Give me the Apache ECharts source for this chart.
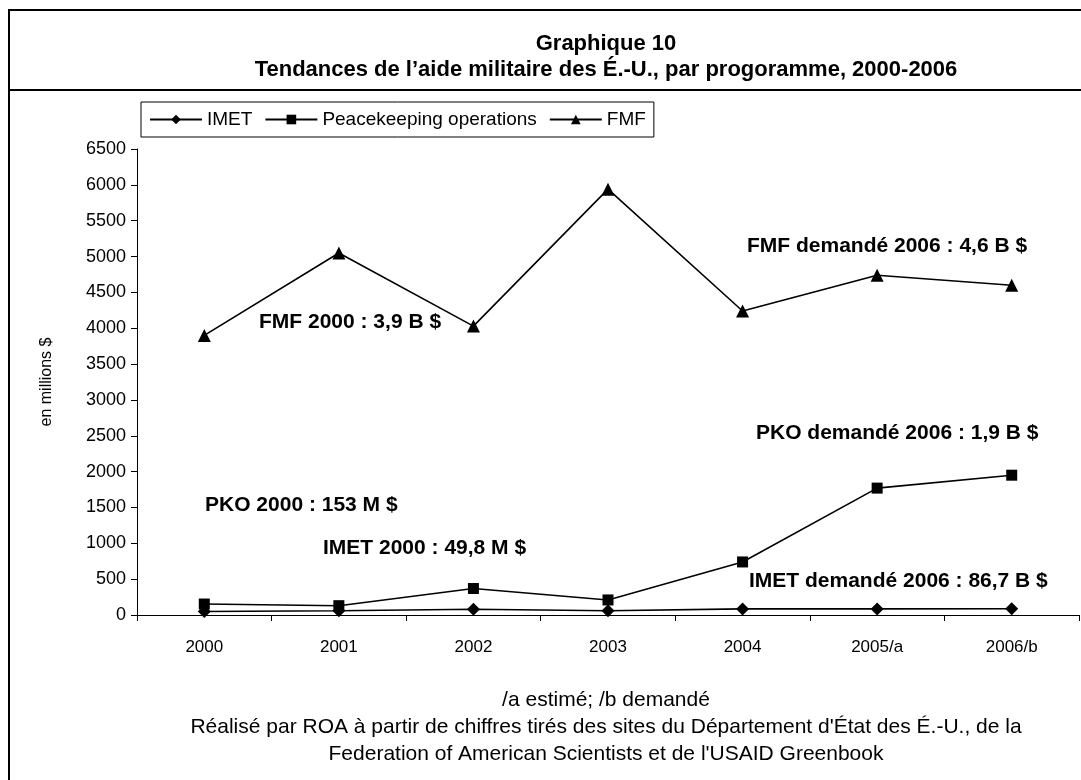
<!DOCTYPE html>
<html>
<head>
<meta charset="utf-8">
<script src="https://cdn.jsdelivr.net/npm/echarts@6/dist/echarts.min.js"></script>
<style>
html,body{margin:0;padding:0;background:#fff;}
#c{width:1081px;height:780px;}
</style>
</head>
<body>
<div id="c"></div>
<script>
var categories = ['2000', '2001', '2002', '2003', '2004', '2005/a', '2006/b'];
var imetValues = [49.8, 60, 80, 60, 85, 85, 86.7];
var pkoValues = [153, 130, 370, 210, 740, 1770, 1950];
var fmfValues = [3900, 5050, 4030, 5940, 4240, 4740, 4600];
var seriesNames = ['IMET', 'Peacekeeping operations', 'FMF'];
var titleLines = ['Graphique 10', 'Tendances de l\u2019aide militaire des \u00c9.-U., par progoramme, 2000-2006'];
var notes = ['/a estim\u00e9; /b demand\u00e9',
  'R\u00e9alis\u00e9 par ROA \u00e0 partir de chiffres tir\u00e9s des sites du D\u00e9partement d\'\u00c9tat des \u00c9.-U., de la',
  'Federation of American Scientists et de l\'USAID Greenbook'];
var annotations = [
  {text: 'FMF 2000 : 3,9 B $', x: 259, y: 322},
  {text: 'PKO 2000 : 153 M $', x: 205, y: 505},
  {text: 'IMET 2000 : 49,8 M $', x: 323, y: 548},
  {text: 'FMF demand\u00e9 2006 : 4,6 B $', x: 747, y: 246},
  {text: 'PKO demand\u00e9 2006 : 1,9 B $', x: 756, y: 433},
  {text: 'IMET demand\u00e9 2006 : 86,7 B $', x: 749, y: 581}
];

var FONT = '"Liberation Sans", Arial, sans-serif';
var chart = echarts.init(document.getElementById('c'), null, {renderer: 'canvas'});

function txt(x, y, s, font, align) {
  return {type: 'text', z: 5, style: {x: x, y: y, text: s, font: font, fill: '#000', textAlign: align || 'center', textVerticalAlign: 'middle'}};
}

var graphics = [
  {type: 'rect', shape: {x: 9, y: 10, width: 1300, height: 900}, style: {fill: 'none', stroke: '#000', lineWidth: 2}, z: 1},
  {type: 'line', shape: {x1: 9, y1: 90, x2: 1300, y2: 90}, style: {stroke: '#000', lineWidth: 2}, z: 1},
  txt(606, 44, titleLines[0], 'bold 22px ' + FONT),
  txt(606, 70, titleLines[1], 'bold 22px ' + FONT),
  txt(606, 700, notes[0], '21px ' + FONT),
  txt(606, 727, notes[1], '21px ' + FONT),
  txt(606, 754, notes[2], '21px ' + FONT)
];
annotations.forEach(function (a) {
  graphics.push(txt(a.x, a.y, a.text, 'bold 21px ' + FONT, 'left'));
});

function lineSeries(name, data, symbol, size) {
  return {
    name: name, type: 'line', data: data,
    symbol: symbol, symbolSize: size,
    lineStyle: {color: '#000', width: 1.6},
    itemStyle: {color: '#000'},
    emphasis: {disabled: true},
    animation: false
  };
}

chart.setOption({
  animation: false,
  textStyle: {fontFamily: FONT, color: '#000'},
  grid: {left: 137, right: 2, top: 149, bottom: 165, containLabel: false},
  legend: {
    left: 141, top: 102,
    data: seriesNames,
    backgroundColor: '#fff', borderColor: '#000', borderWidth: 1,
    padding: [8, 8, 8, 8],
    itemWidth: 52, itemHeight: 12, itemGap: 12,
    textStyle: {fontSize: 19, color: '#000', fontFamily: FONT},
    selectedMode: false
  },
  xAxis: {
    type: 'category', data: categories, boundaryGap: true,
    axisLine: {lineStyle: {color: '#000', width: 1}},
    axisTick: {show: true, inside: false, length: 6, lineStyle: {color: '#000'}},
    axisLabel: {fontSize: 17, color: '#000', margin: 24, fontFamily: FONT},
    splitLine: {show: false}
  },
  yAxis: {
    type: 'value', min: 0, max: 6500, interval: 500,
    name: 'en millions $', nameLocation: 'middle', nameGap: 82, nameRotate: 90,
    nameTextStyle: {fontSize: 16, color: '#000', fontFamily: FONT},
    axisLine: {show: true, lineStyle: {color: '#000', width: 1}},
    axisTick: {show: true, inside: false, length: 6, lineStyle: {color: '#000'}},
    axisLabel: {fontSize: 18, color: '#000', margin: 11, fontFamily: FONT,
      formatter: function (v) { return String(v); }},
    splitLine: {show: false}
  },
  graphic: graphics,
  series: [
    lineSeries(seriesNames[0], imetValues, 'diamond', 13),
    lineSeries(seriesNames[1], pkoValues, 'rect', 11),
    lineSeries(seriesNames[2], fmfValues, 'triangle', 13)
  ]
});
</script>
</body>
</html>
